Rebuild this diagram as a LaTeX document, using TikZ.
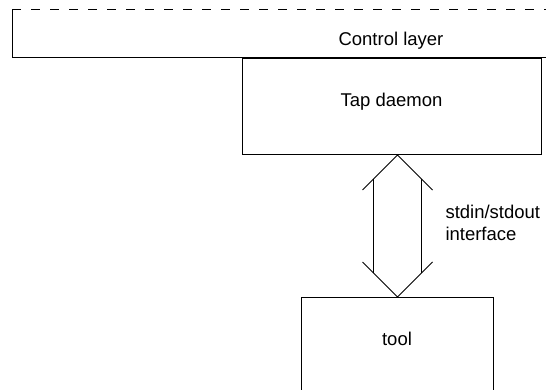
\documentclass[tikz,border=0pt]{standalone}
\usepackage{fontspec}
\setmainfont{Liberation Sans}
\usetikzlibrary{calc}
\begin{document}
\begin{tikzpicture}[x=1pt,y=1pt,line width=1pt,
  lbl/.style={font=\fontsize{18.5}{22}\selectfont,inner sep=0pt},
  box/.style={draw,inner sep=0pt,anchor=north west}]
\useasboundingbox (0,0) rectangle (546,389);
\clip (0,0) rectangle (546,389);

% control layer: open on the right, dashed along the top
\draw (546,331) -- (12,331) -- (12,379);
\draw[dash pattern=on 9pt off 10pt] (12,379) -- (546,379);
\node[lbl,anchor=base] (ctl) at (391,343) {Control layer};

% tap daemon box
\node[box,minimum width=299pt,minimum height=96pt] (tap) at (242,331) {};
\node[lbl,anchor=base] (taplbl) at (391.5,283) {Tap daemon};

% tool box, running past the lower edge
\node[box,minimum width=192pt,minimum height=130pt] (tool) at (301,92) {};
\node[lbl,anchor=base] (toollbl) at (397,44) {tool};

% wide double arrow between the daemon and the tool
\coordinate (up) at (tool.north |- tap.south);
\coordinate (dn) at (tool.north);
\draw ($(up)+(-35,-35)$) -- (up) -- ($(up)+(35,-35)$);
\draw ($(dn)+(-35,35)$) -- (dn) -- ($(dn)+(35,35)$);
\draw ($(up)+(-24,-24)$) -- ($(dn)+(-24,24)$);
\draw ($(up)+(24,-24)$) -- ($(dn)+(24,24)$);

\node[lbl,anchor=base west] (iface) at (445,171) {stdin/stdout};
\node[lbl,anchor=base west] (iface2) at (445,149) {interface};
\end{tikzpicture}
\end{document}
